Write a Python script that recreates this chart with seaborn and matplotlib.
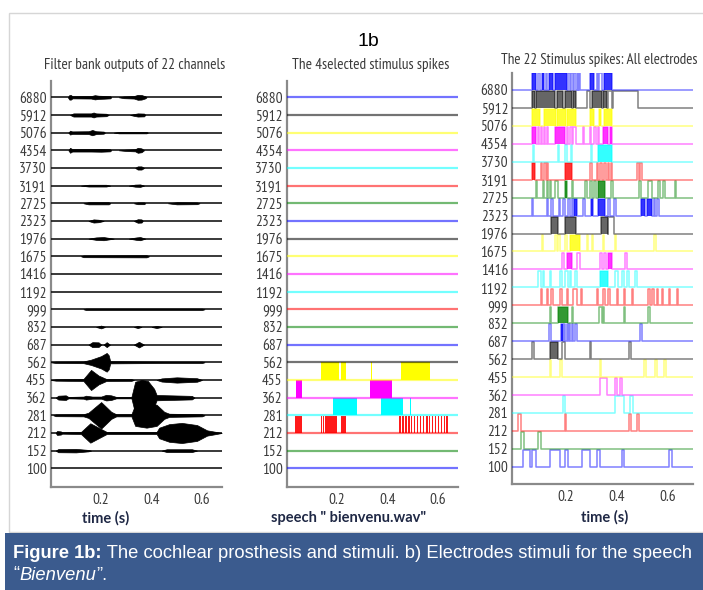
#!/usr/bin/env python3

import matplotlib
matplotlib.use("Agg")
import numpy as np
import pandas as pd
import seaborn as sns
from matplotlib import pyplot as plt
from matplotlib import font_manager
from matplotlib.patches import Rectangle

# channel centre frequencies, bottom row first
CHANNELS = ["100", "152", "212", "281", "362", "455", "562", "687", "832", "999",
            "1192", "1416", "1675", "1976", "2323", "2725", "3191", "3730", "4354",
            "5076", "5912", "6880"]
TICKS = [0.2, 0.4, 0.6]
TICK_LABELS = ["0.2", "0.4", "0.6"]

# panel 1: envelope of each filter output, (time, half amplitude in rows)
ENVELOPES = {
    "6880": [[(0.068, 0), (0.074, 0.13), (0.080, 0.13), (0.086, 0.06), (0.16, 0.07), (0.175, 0.12),
              (0.19, 0.09), (0.21, 0.08), (0.236, 0.06), (0.24, 0)],
             [(0.27, 0), (0.29, 0.05), (0.33, 0.07), (0.345, 0.14), (0.36, 0.13), (0.375, 0.06), (0.38, 0)]],
    "5912": [[(0.077, 0), (0.09, 0.09), (0.16, 0.09), (0.17, 0.14), (0.18, 0.09), (0.22, 0.07), (0.23, 0)],
             [(0.315, 0), (0.33, 0.05), (0.345, 0.09), (0.37, 0.08), (0.375, 0)]],
    "5076": [[(0.07, 0), (0.077, 0.11), (0.085, 0.07), (0.15, 0.08), (0.165, 0.15), (0.18, 0.08),
              (0.21, 0.06), (0.215, 0)],
             [(0.25, 0), (0.27, 0.04), (0.38, 0.04), (0.385, 0)]],
    "4354": [[(0.07, 0), (0.077, 0.14), (0.085, 0.07), (0.16, 0.07), (0.2, 0.08), (0.235, 0.06), (0.24, 0)],
             [(0.27, 0), (0.3, 0.04), (0.335, 0.06), (0.345, 0.14), (0.36, 0.11), (0.37, 0)]],
    "3730": [[(0.335, 0), (0.345, 0.09), (0.36, 0.09), (0.37, 0)]],
    "3191": [[(0.12, 0), (0.15, 0.05), (0.22, 0.05), (0.236, 0)],
             [(0.31, 0), (0.335, 0.06), (0.355, 0.07), (0.37, 0)]],
    "2725": [[(0.13, 0), (0.15, 0.06), (0.23, 0.06), (0.236, 0)],
             [(0.33, 0), (0.345, 0.05), (0.37, 0.05), (0.375, 0)],
             [(0.465, 0), (0.5, 0.06), (0.58, 0.05), (0.59, 0)]],
    "2323": [[(0.15, 0), (0.17, 0.09), (0.19, 0.07), (0.21, 0)],
             [(0.33, 0), (0.345, 0.10), (0.36, 0.09), (0.365, 0)]],
    "1976": [[(0.15, 0), (0.18, 0.07), (0.21, 0.09), (0.25, 0)],
             [(0.31, 0), (0.34, 0.07), (0.355, 0.09), (0.375, 0)]],
    "1675": [[(0.12, 0), (0.13, 0.05), (0.38, 0.06), (0.39, 0)]],
    "999": [[(0.13, 0), (0.14, 0.04), (0.60, 0.04), (0.61, 0)]],
    "832": [[(0.18, 0), (0.2, 0.08), (0.215, 0)], [(0.33, 0), (0.345, 0.06), (0.36, 0)],
            [(0.4, 0), (0.42, 0.06), (0.44, 0)]],
    "687": [[(0.15, 0), (0.165, 0.14), (0.19, 0.13), (0.2, 0)], [(0.21, 0), (0.222, 0.14), (0.235, 0)],
            [(0.33, 0), (0.35, 0.16), (0.37, 0)]],
    "562": [[(0.0, 0), (0.02, 0.04), (0.13, 0.05), (0.16, 0.15), (0.2, 0.35), (0.222, 0.53),
             (0.23, 0.4), (0.236, 0.06), (0.45, 0.04), (0.6, 0.04), (0.61, 0)]],
    "455": [[(0.0, 0), (0.02, 0.04), (0.13, 0.06), (0.16, 0.57), (0.19, 0.25), (0.22, 0.06),
             (0.32, 0.05), (0.33, 0)],
            [(0.42, 0), (0.44, 0.09), (0.5, 0.15), (0.58, 0.10), (0.6, 0)]],
    "362": [[(0.02, 0), (0.03, 0.11), (0.06, 0.13), (0.07, 0.04), (0.13, 0.06), (0.14, 0.11), (0.165, 0.06),
             (0.2, 0.06), (0.22, 0.16), (0.24, 0.13), (0.26, 0.04), (0.32, 0.04), (0.335, 0.9),
             (0.36, 1.0), (0.385, 0.95), (0.41, 0.5), (0.42, 0.15), (0.56, 0.1), (0.57, 0)]],
    "281": [[(0.01, 0), (0.02, 0.05), (0.13, 0.06), (0.15, 0.15), (0.2, 0.75), (0.24, 0.2), (0.26, 0.06),
             (0.32, 0.06), (0.335, 0.6), (0.38, 0.7), (0.42, 0.6), (0.45, 0.2), (0.47, 0.09),
             (0.6, 0.06), (0.61, 0)]],
    "212": [[(0.02, 0), (0.025, 0.11), (0.04, 0.09), (0.045, 0.04), (0.12, 0.06), (0.157, 0.55),
             (0.19, 0.3), (0.222, 0.06), (0.42, 0.06), (0.43, 0.3), (0.47, 0.5), (0.52, 0.57),
             (0.58, 0.45), (0.62, 0.15), (0.66, 0.05), (0.678, 0)]],
    "152": [[(0.02, 0), (0.03, 0.09), (0.1, 0.10), (0.15, 0.04), (0.16, 0)],
            [(0.44, 0), (0.46, 0.08), (0.56, 0.08), (0.58, 0)]],
}

# panel 2: the four selected electrodes
SEL_YELLOW_455 = [(0.138, 0.208), (0.215, 0.234), (0.335, 0.338), (0.454, 0.570)]
SEL_MAGENTA_362 = [(0.037, 0.060), (0.330, 0.418)]
SEL_CYAN_281 = [(0.182, 0.280), (0.375, 0.462), (0.490, 0.493)]
SEL_RED_212 = [0.033, 0.040, 0.046, 0.053,
               0.135, 0.143, 0.151, 0.159, 0.167, 0.175, 0.183, 0.191, 0.214, 0.221, 0.228,
               0.445, 0.457, 0.469, 0.481, 0.492, 0.504, 0.516, 0.528, 0.540, 0.552, 0.563,
               0.575, 0.587, 0.599, 0.611, 0.623, 0.634]

# panel 3: single pulses (outlined) and dense bursts (filled) per electrode
ALL_PULSES = {
    "6880": [(0.092, 0.098), (0.121, 0.125), (0.207, 0.217), (0.220, 0.227), (0.234, 0.239),
             (0.247, 0.249), (0.252, 0.256), (0.322, 0.325), (0.332, 0.341)],
    "5912": [(0.282, 0.295), (0.367, 0.383), (0.385, 0.482)],
    "5076": [],
    "4354": [(0.092, 0.096), (0.102, 0.108), (0.115, 0.118), (0.125, 0.129), (0.203, 0.210),
             (0.217, 0.223), (0.230, 0.239), (0.269, 0.273), (0.295, 0.299), (0.312, 0.318),
             (0.328, 0.332)],
    "3730": [(0.072, 0.076), (0.170, 0.172), (0.199, 0.203), (0.219, 0.223), (0.299, 0.304)],
    "3191": [(0.102, 0.108), (0.115, 0.121), (0.125, 0.129), (0.295, 0.304), (0.322, 0.328),
             (0.335, 0.341), (0.352, 0.357), (0.365, 0.370), (0.378, 0.383), (0.479, 0.486),
             (0.492, 0.499)],
    "2725": [(0.083, 0.089), (0.112, 0.115), (0.125, 0.129), (0.138, 0.141), (0.157, 0.171),
             (0.223, 0.230), (0.276, 0.282), (0.295, 0.302), (0.312, 0.318), (0.378, 0.387),
             (0.486, 0.496), (0.525, 0.538), (0.562, 0.571), (0.584, 0.591), (0.630, 0.633)],
    "2323": [(0.066, 0.072), (0.125, 0.129), (0.144, 0.148), (0.173, 0.177), (0.190, 0.197),
             (0.207, 0.217), (0.223, 0.230), (0.269, 0.276), (0.367, 0.374), (0.391, 0.396),
             (0.545, 0.549), (0.558, 0.567)],
    "1976": [(0.367, 0.391)],
    "1675": [(0.105, 0.112), (0.157, 0.164), (0.171, 0.177), (0.197, 0.203), (0.282, 0.289),
             (0.302, 0.306), (0.348, 0.352), (0.394, 0.398), (0.545, 0.554)],
    "1416": [(0.184, 0.194), (0.243, 0.256), (0.335, 0.341), (0.352, 0.357), (0.433, 0.440)],
    "1192": [(0.092, 0.102), (0.112, 0.115), (0.138, 0.144), (0.177, 0.187), (0.197, 0.207),
             (0.217, 0.220), (0.236, 0.243), (0.394, 0.407), (0.420, 0.427), (0.440, 0.449),
             (0.472, 0.479)],
    "999": [(0.102, 0.108), (0.125, 0.131), (0.144, 0.151), (0.177, 0.184), (0.203, 0.210),
            (0.230, 0.243), (0.260, 0.265), (0.322, 0.328), (0.348, 0.354), (0.367, 0.374),
            (0.400, 0.407), (0.427, 0.433), (0.459, 0.466), (0.525, 0.531), (0.538, 0.545),
            (0.558, 0.564), (0.577, 0.584), (0.604, 0.610), (0.636, 0.643)],
    "832": [(0.138, 0.144), (0.223, 0.230), (0.332, 0.341), (0.346, 0.350), (0.427, 0.433),
            (0.525, 0.531)],
    "687": [(0.134, 0.144), (0.194, 0.198), (0.203, 0.208), (0.213, 0.218), (0.223, 0.228),
            (0.236, 0.243), (0.492, 0.501)],
    "562": [(0.066, 0.076), (0.184, 0.197), (0.295, 0.299), (0.449, 0.457)],
    "455": [(0.138, 0.144), (0.177, 0.184), (0.335, 0.339), (0.509, 0.514), (0.551, 0.558),
            (0.588, 0.593)],
    "362": [(0.335, 0.361), (0.394, 0.400), (0.413, 0.420)],
    "281": [(0.190, 0.197), (0.394, 0.430), (0.453, 0.466)],
    "212": [(0.013, 0.024), (0.197, 0.201), (0.449, 0.457), (0.479, 0.488)],
    "152": [(0.024, 0.037), (0.092, 0.102)],
    "100": [(0.033, 0.059), (0.066, 0.085), (0.138, 0.177), (0.197, 0.210), (0.262, 0.295),
            (0.322, 0.335), (0.420, 0.427), (0.604, 0.617)],
}
ALL_BURSTS = {
    "6880": [(0.068, 0.085), (0.105, 0.115), (0.134, 0.151), (0.157, 0.203), (0.295, 0.312),
             (0.352, 0.381)],
    "5912": [(0.066, 0.079), (0.085, 0.157), (0.164, 0.190), (0.197, 0.223), (0.230, 0.239),
             (0.302, 0.341), (0.348, 0.361)],
    "5076": [(0.068, 0.100), (0.115, 0.160), (0.165, 0.200), (0.205, 0.240), (0.295, 0.310),
             (0.330, 0.340), (0.350, 0.381)],
    "4354": [(0.068, 0.085), (0.157, 0.197), (0.348, 0.367), (0.374, 0.383)],
    "3730": [(0.328, 0.383)],
    "3191": [(0.068, 0.079), (0.197, 0.223)],
    "2725": [(0.197, 0.206), (0.328, 0.354)],
    "2323": [(0.234, 0.243), (0.299, 0.308), (0.328, 0.354), (0.496, 0.512), (0.518, 0.538)],
    "1976": [(0.144, 0.171), (0.197, 0.239), (0.339, 0.365)],
    "1675": [(0.217, 0.256)],
    "1416": [(0.203, 0.223), (0.367, 0.381)],
    "1192": [(0.335, 0.367)],
    "832": [(0.171, 0.210)],
    "687": [(0.181, 0.190)],
    "562": [(0.138, 0.171)],
}

# matlab colour order b, g, r, c, m, y, k from the bottom row up
COLOR_ORDER = ["#0000ff", "#008000", "#ff0000", "#00ffff", "#ff00ff", "#ffff00", "#000000"]
PALETTE = {ch: COLOR_ORDER[i % 7] for i, ch in enumerate(CHANNELS)}

W, H = 703, 590
SPINE = "#8a8a8a"
TXT = "#3a3a3a"


def fx(px):
    return px / W


def fy(py):
    return 1 - py / H


def find_narrow():
    """Pick a condensed sans face if one is installed."""
    best = None
    for f in font_manager.fontManager.ttflist:
        n = f.fname.lower()
        if any(k in n for k in ["bold", "oblique", "italic", "mono", "serif", "light"]):
            continue
        if "narrow" in n and "sans" in n:
            return f.fname
        if "condensed" in n and "sans" in n and best is None:
            best = f.fname
    return best


def narrow_fp(size):
    if NARROW_FILE:
        return font_manager.FontProperties(fname=NARROW_FILE, size=size)
    return font_manager.FontProperties(family="Liberation Sans", size=size)


def style_axes(ax, xlim, ylim):
    ax.set_xlim(*xlim)
    ax.set_ylim(*ylim)
    ax.set_yticks(range(len(CHANNELS)))
    ax.set_yticklabels(CHANNELS, color=TXT)
    ax.set_xticks(TICKS)
    ax.set_xticklabels(TICK_LABELS, color=TXT)
    for lbl in ax.get_yticklabels() + ax.get_xticklabels():
        lbl.set_fontproperties(narrow_fp(TICK_SIZE))
    ax.tick_params(axis="y", length=0, pad=3)
    ax.tick_params(axis="x", direction="in", length=4, width=1, color=SPINE, pad=4)
    ax.set_xlabel("")
    ax.set_ylabel("")
    for side in ["top", "right"]:
        ax.spines[side].set_visible(False)
    for side in ["left", "bottom"]:
        ax.spines[side].set_color(SPINE)
        ax.spines[side].set_linewidth(1.6)
    ax.set_facecolor("white")


def baselines(ax, x0, x1, colors, alpha, lw):
    rows = []
    for i, ch in enumerate(CHANNELS):
        rows.append({"t": x0, "row": i, "channel": ch})
        rows.append({"t": x1, "row": i, "channel": ch})
    df = pd.DataFrame(rows)
    sns.lineplot(data=df, x="t", y="row", hue="channel", palette=colors, legend=False,
                 estimator=None, sort=False, ax=ax, linewidth=lw, alpha=alpha, zorder=3)


def pulse_trace(ax, x0, x1, h):
    rows = []
    for i, ch in enumerate(CHANNELS):
        seq = [(x0, i)]
        for a, b in sorted(ALL_PULSES.get(ch, []) + ALL_BURSTS.get(ch, [])):
            seq += [(a, i), (a, i + h), (b, i + h), (b, i)]
        seq.append((x1, i))
        for t, y in seq:
            rows.append({"t": t, "row": y, "channel": ch})
    df = pd.DataFrame(rows)
    sns.lineplot(data=df, x="t", y="row", hue="channel", palette=PALETTE, legend=False,
                 estimator=None, sort=False, ax=ax, linewidth=1.1, alpha=0.5, zorder=3)


sns.set_theme(style="white")
plt.rcParams["font.family"] = ["Liberation Sans", "DejaVu Sans"]
NARROW_FILE = find_narrow()
TICK_SIZE = 11 if NARROW_FILE else 9
TITLE_SIZE = 11 if NARROW_FILE else 9

fig = plt.figure(figsize=(W / 100, H / 100), dpi=100)
fig.patch.set_facecolor("white")

# outer frame and caption band
fig.patches.append(Rectangle((fx(9), fy(532)), 1.0, fy(13) - fy(532), transform=fig.transFigure,
                             fill=False, edgecolor="#d6d6d6", linewidth=1.0, zorder=0))
fig.patches.append(Rectangle((fx(5), 0), 1.0, fy(533), transform=fig.transFigure,
                             facecolor="#3b5b8e", edgecolor="none", zorder=0))

# panel 1: filter bank outputs
ax1 = fig.add_axes([fx(50.7), fy(487.3), 171 / W, (487.3 - 80.7) / H])
baselines(ax1, 0.0, 0.678, {ch: "#111111" for ch in CHANNELS}, 0.9, 1.3)
for i, ch in enumerate(CHANNELS):
    for blob in ENVELOPES.get(ch, []):
        t = np.array([p[0] for p in blob])
        a = np.array([p[1] for p in blob])
        ax1.fill_between(t, i - a, i + a, color="black", linewidth=0.5, zorder=4)
style_axes(ax1, (0, 0.678), (-1.075, 21.94))

# panel 2: the 4 selected stimulus spikes
ax2 = fig.add_axes([fx(286.7), fy(487.3), 171.3 / W, (487.3 - 80.7) / H])
baselines(ax2, 0.0, 0.68, PALETTE, 0.55, 1.6)
r455 = CHANNELS.index("455")
r362 = CHANNELS.index("362")
r281 = CHANNELS.index("281")
r212 = CHANNELS.index("212")
for row_, blocks, col in [(r455, SEL_YELLOW_455, "#ffff00"), (r362, SEL_MAGENTA_362, "#ff00ff"),
                          (r281, SEL_CYAN_281, "#00ffff")]:
    ax2.bar([a for a, b in blocks], [1.0] * len(blocks), width=[b - a for a, b in blocks],
            bottom=row_, align="edge", color=col, linewidth=0, zorder=2)
ax2.bar(SEL_RED_212, [0.97] * len(SEL_RED_212), width=0.007, bottom=r212, align="edge",
        color="#ff1a1a", linewidth=0, zorder=2)
style_axes(ax2, (0, 0.68), (-1.075, 21.94))

# panel 3: all 22 electrodes
ax3 = fig.add_axes([fx(512.3), fy(484), 180.7 / W, (484 - 73.3) / H])
h = 0.93
pulse_trace(ax3, -0.01, 0.70, h)
for i, ch in enumerate(CHANNELS):
    bursts = ALL_BURSTS.get(ch, [])
    if bursts:
        ax3.bar([a for a, b in bursts], [h] * len(bursts), width=[b - a for a, b in bursts],
                bottom=i, align="edge", color=PALETTE[ch],
                alpha=0.6 if PALETTE[ch] == "#000000" else 0.8, linewidth=0, zorder=2)
style_axes(ax3, (-0.01, 0.70), (-0.96, 21.93))

# titles
fig.text(fx(368), fy(42), "1b", ha="center", va="center", fontsize=14, color="black",
         family="Liberation Sans")
fig.text(fx(135), fy(65), "Filter bank outputs of 22 channels", ha="center", va="center",
         color=TXT, fontproperties=narrow_fp(TITLE_SIZE))
fig.text(fx(371), fy(65), "The 4selected stimulus spikes", ha="center", va="center",
         color=TXT, fontproperties=narrow_fp(TITLE_SIZE))
t3 = fig.text(fx(501), fy(60), "The 22 Stimulus spikes: All electrodes", ha="left", va="center",
              color=TXT, fontproperties=narrow_fp(TITLE_SIZE))
r = fig.canvas.get_renderer()
w3 = t3.get_window_extent(r).width
if w3 > 197:
    t3.set_fontproperties(narrow_fp(TITLE_SIZE * 197 / w3))

# axis captions under the panels
LABEL = dict(ha="center", va="center", fontsize=10.5, weight="bold", color="#1f2845", family="Lato")
fig.text(fx(106), fy(518), "time (s)", **LABEL)
fig.text(fx(349), fy(518), 'speech " bienvenu.wav"', **LABEL)
fig.text(fx(605), fy(517), "time (s)", **LABEL)

# caption
cap = fig.add_axes([0, 0, 1, 1], zorder=5)
cap.axis("off")
cap.set_xlim(0, 1)
cap.set_ylim(0, 1)
fs = 12.0
CAP = dict(color="white", family="Liberation Sans", va="center", ha="left")
c1 = cap.text(fx(13), fy(553), "Figure 1b:", weight="bold", fontsize=fs, **CAP)
c2 = cap.annotate(" The cochlear prosthesis and stimuli. b) Electrodes stimuli for the speech",
                  xy=(1, 0), xycoords=c1, va="bottom", ha="left", color="white",
                  family="Liberation Sans", fontsize=fs)
wide = c1.get_window_extent(r).width + c2.get_window_extent(r).width
fs = fs * 682 / wide
c1.set_fontsize(fs)
c2.set_fontsize(fs)
d1 = cap.text(fx(13), fy(575), "\u201c", fontsize=fs, **CAP)
d2 = cap.annotate("Bienvenu", xy=(1, 0), xycoords=d1, va="bottom", ha="left", color="white",
                  family="Liberation Sans", fontsize=fs, style="italic")
cap.annotate("\u201d.", xy=(1, 0), xycoords=d2, va="bottom", ha="left", color="white",
             family="Liberation Sans", fontsize=fs)

fig.savefig("out.png", dpi=100)
